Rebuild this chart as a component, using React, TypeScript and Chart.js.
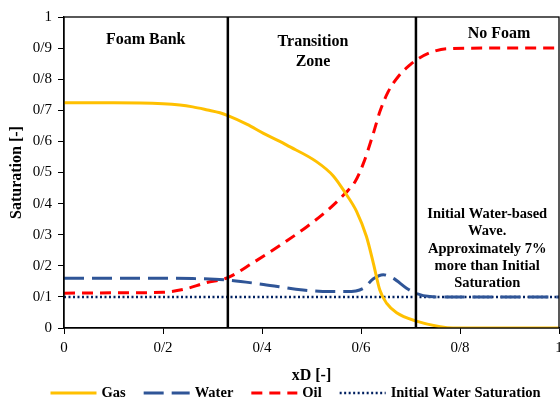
import React, { useEffect, useRef } from 'react';
import { Chart, registerables } from 'chart.js';

Chart.register(...registerables);

// ---- data ----
const gasX = [0, 0.1, 0.2, 0.234, 0.26, 0.29, 0.315, 0.331, 0.37, 0.403, 0.436, 0.45, 0.51, 0.544, 0.568, 0.591, 0.611, 0.625, 0.638, 0.652, 0.672, 0.712, 0.76, 0.786, 0.85, 1];
const gasY = [0.724, 0.724, 0.721, 0.717, 0.711, 0.701, 0.692, 0.683, 0.655, 0.626, 0.6, 0.588, 0.535, 0.489, 0.435, 0.375, 0.294, 0.208, 0.122, 0.079, 0.049, 0.022, 0.004, 0, 0, 0];

const waterX = [0, 0.2, 0.26, 0.331, 0.403, 0.483, 0.537, 0.571, 0.605, 0.625, 0.645, 0.665, 0.692, 0.712, 0.739, 0.76, 1];
const waterY = [0.16, 0.16, 0.159, 0.154, 0.14, 0.122, 0.117, 0.117, 0.128, 0.158, 0.171, 0.16, 0.128, 0.111, 0.101, 0.1, 0.1];

const oilX = [0, 0.1, 0.2, 0.241, 0.288, 0.331, 0.382, 0.436, 0.49, 0.53, 0.568, 0.588, 0.605, 0.625, 0.638, 0.655, 0.675, 0.699, 0.712, 0.739, 0.773, 0.85, 1];
const oilY = [0.112, 0.113, 0.115, 0.124, 0.146, 0.162, 0.21, 0.265, 0.325, 0.375, 0.433, 0.47, 0.53, 0.626, 0.695, 0.76, 0.808, 0.846, 0.862, 0.885, 0.898, 0.9, 0.9];

const initX = [0, 1];
const initY = [0.1, 0.1];

const boundaryX = [0.331, 0.711];

const xTickLabels = ['0', '0/2', '0/4', '0/6', '0/8', '1'];
const yTickLabels = ['0', '0/1', '0/2', '0/3', '0/4', '0/5', '0/6', '0/7', '0/8', '0/9', '1'];

const seriesLabels = ['Gas', 'Water', 'Oil', 'Initial Water Saturation'];

// annotation texts: [x data, y data, lines, font size]
const annotations: { x: number; y: number; lines: string[]; size: number }[] = [
  { x: 0.165, y: 0.926, lines: ['Foam Bank'], size: 16 },
  { x: 0.503, y: 0.92, lines: ['Transition', 'Zone'], size: 16 },
  { x: 0.879, y: 0.947, lines: ['No Foam'], size: 16 },
  { x: 0.855, y: 0.365, lines: ['Initial Water-based', 'Wave.', 'Approximately 7%', 'more than Initial', 'Saturation'], size: 14.5 },
];

const SERIF = '"Liberation Serif", "Times New Roman", serif';

const toPts = (xs: number[], ys: number[]) => xs.map((x, i) => ({ x, y: ys[i] }));

const frameAndTextPlugin = {
  id: 'frameAndText',
  afterDatasetsDraw(chart: any) {
    const { ctx, chartArea } = chart;
    const xs = chart.scales.x;
    const ys = chart.scales.y;
    ctx.save();
    ctx.strokeStyle = '#000';
    ctx.lineWidth = 1.3;
    ctx.strokeRect(chartArea.left, chartArea.top, chartArea.right - chartArea.left, chartArea.bottom - chartArea.top);
    ctx.fillStyle = '#000';
    ctx.textAlign = 'center';
    ctx.textBaseline = 'middle';
    annotations.forEach((a) => {
      ctx.font = `bold ${a.size}px ${SERIF}`;
      const px = xs.getPixelForValue(a.x);
      const py = ys.getPixelForValue(a.y);
      const lh = a.size >= 16 ? 19.5 : 17.2;
      a.lines.forEach((t, i) => ctx.fillText(t, px, py + i * lh));
    });
    ctx.restore();
  },
};

const legendPlugin = {
  id: 'customLegend',
  afterDraw(chart: any) {
    const { ctx } = chart;
    const items = chart.data.datasets.filter((d: any) => seriesLabels.includes(d.label));
    const sample = 46;
    const gap = 5;
    const spacing = 18;
    ctx.save();
    ctx.font = `bold 14.5px ${SERIF}`;
    const widths = items.map((d: any) => sample + gap + ctx.measureText(d.label).width);
    const total = widths.reduce((a: number, b: number) => a + b, 0) + spacing * (items.length - 1);
    const center = (chart.chartArea.left + chart.chartArea.right) / 2 - 16;
    let x = center - total / 2;
    const y = 393;
    items.forEach((d: any, i: number) => {
      ctx.beginPath();
      ctx.setLineDash(d.borderDash || []);
      ctx.lineCap = 'butt';
      ctx.strokeStyle = d.borderColor;
      ctx.lineWidth = d.borderWidth;
      ctx.moveTo(x, y);
      ctx.lineTo(x + sample, y);
      ctx.stroke();
      ctx.setLineDash([]);
      ctx.fillStyle = '#000';
      ctx.textAlign = 'left';
      ctx.textBaseline = 'middle';
      ctx.fillText(d.label, x + sample + gap, y + 0.5);
      x += widths[i] + spacing;
    });
    ctx.restore();
  },
};

export default function App() {
  const ref = useRef<HTMLCanvasElement | null>(null);

  useEffect(() => {
    if (!ref.current) return;
    const common = { pointRadius: 0, pointHoverRadius: 0, fill: false, cubicInterpolationMode: 'monotone', borderCapStyle: 'butt' };
    const chart = new Chart(ref.current, {
      type: 'line',
      data: {
        datasets: [
          ...boundaryX.map((bx) => ({
            label: '',
            data: [{ x: bx, y: 0 }, { x: bx, y: 1 }],
            borderColor: '#000',
            borderWidth: 2.5,
            pointRadius: 0,
            order: -1,
          })),
          { ...common, label: seriesLabels[0], data: toPts(gasX, gasY), borderColor: '#FFC000', borderWidth: 3 },
          { ...common, label: seriesLabels[1], data: toPts(waterX, waterY), borderColor: '#2F5597', borderWidth: 3, borderDash: [20, 8] },
          { ...common, label: seriesLabels[2], data: toPts(oilX, oilY), borderColor: '#FF0000', borderWidth: 3, borderDash: [11, 7] },
          { ...common, label: seriesLabels[3], data: toPts(initX, initY), borderColor: '#002060', borderWidth: 2.5, borderDash: [2, 2.5] },
        ] as any,
      },
      options: {
        animation: false,
        responsive: false,
        maintainAspectRatio: false,
        layout: { padding: { top: 17, right: 1, bottom: 16, left: 0 } },
        plugins: { legend: { display: false }, tooltip: { enabled: false } },
        scales: {
          x: {
            type: 'linear',
            min: 0,
            max: 1,
            ticks: {
              stepSize: 0.2,
              color: '#000',
              font: { family: SERIF, size: 15 },
              padding: 5,
              maxRotation: 0,
              callback: (_v: any, i: number) => xTickLabels[i],
            },
            grid: { drawOnChartArea: false, drawTicks: true, tickLength: 6, color: '#000', lineWidth: 1 },
            border: { color: '#000', width: 1.3 },
            title: { display: true, text: 'xD [-]', color: '#000', font: { family: SERIF, size: 16, weight: 'bold' }, padding: { top: 0, bottom: 0 } },
            afterFit: (s: any) => {
              s.height = 57;
              s.paddingLeft = 0;
              s.paddingRight = 0;
            },
          },
          y: {
            min: 0,
            max: 1,
            ticks: {
              stepSize: 0.1,
              color: '#000',
              font: { family: SERIF, size: 15 },
              padding: 6,
              callback: (_v: any, i: number) => yTickLabels[i],
            },
            grid: { drawOnChartArea: false, drawTicks: true, tickLength: 6, color: '#000', lineWidth: 1 },
            border: { color: '#000', width: 1.3 },
            title: { display: true, text: 'Saturation [-]', color: '#000', font: { family: SERIF, size: 16, weight: 'bold' }, padding: { top: 7, bottom: 0 } },
            afterFit: (s: any) => {
              s.width = 64;
              s.paddingTop = 0;
              s.paddingBottom = 0;
            },
          },
        },
      } as any,
      plugins: [frameAndTextPlugin, legendPlugin],
    });
    return () => chart.destroy();
  }, []);

  return (
    <div style={{ position: 'fixed', left: 0, top: 0, width: 560, height: 401, background: '#fff' }}>
      <canvas ref={ref} width={560} height={401} style={{ display: 'block', width: 560, height: 401 }} />
    </div>
  );
}
